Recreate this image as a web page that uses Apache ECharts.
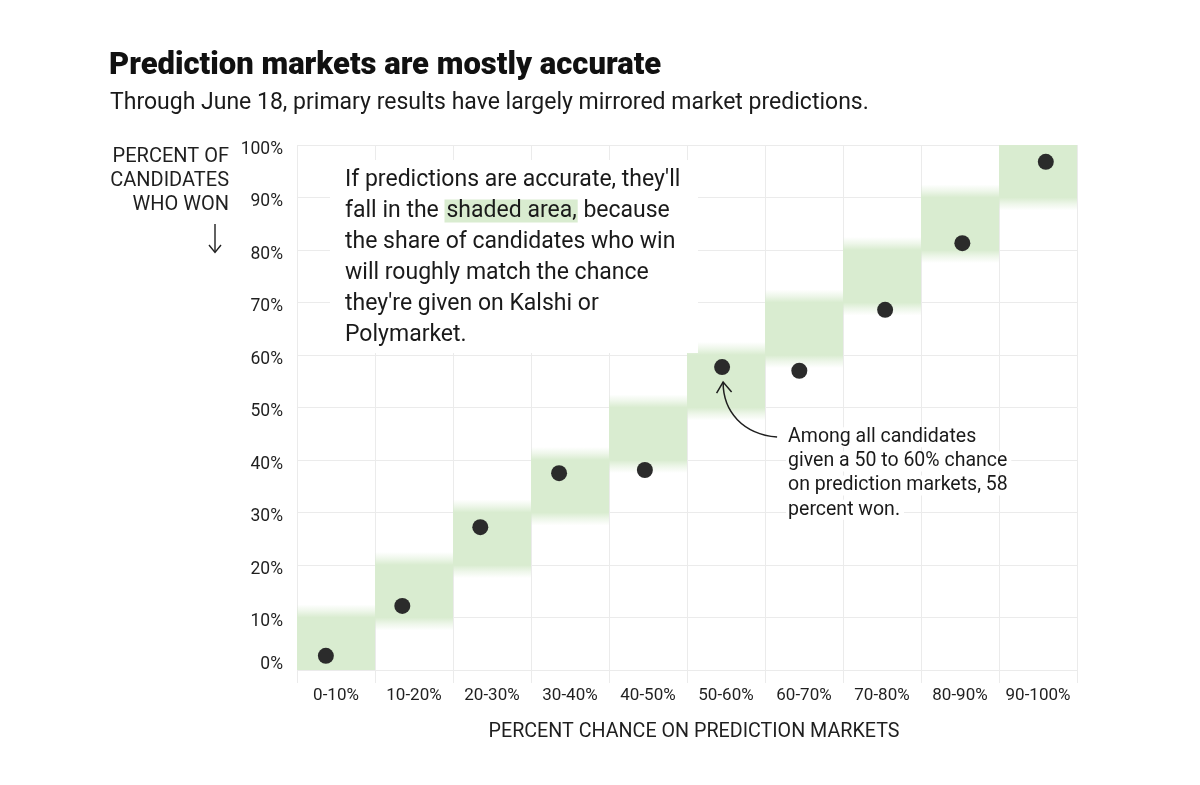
<!DOCTYPE html>
<html>
<head>
<meta charset="utf-8">
<script src="https://cdn.jsdelivr.net/npm/echarts@6/dist/echarts.min.js"></script>
<style>html,body{margin:0;padding:0;background:#fff;}#c{width:1200px;height:785px;}</style>
</head>
<body>
<div id="c"></div>
<script>
// ---- data ----
const categories = ['0-10%','10-20%','20-30%','30-40%','40-50%','50-60%','60-70%','70-80%','80-90%','90-100%'];
const bandLow  = [0, 10, 20, 30, 40, 50, 60, 70, 80, 90];
const bandHigh = [10, 20, 30, 40, 50, 60, 70, 80, 90, 100];
const meanChance = [3.7, 13.5, 23.5, 33.6, 44.6, 54.5, 64.4, 75.4, 85.3, 96.0];
const winShare   = [2.7, 12.2, 27.2, 37.5, 38.1, 57.7, 57.0, 68.6, 81.3, 96.8];
const yTicks = [0, 10, 20, 30, 40, 50, 60, 70, 80, 90, 100];

const FONT = 'Roboto';
const GREEN = '#d9ecd0';
const GREEN0 = 'rgba(217,236,208,0)';
const GRID = '#ebebeb';
const INK = '#1f1f1f';

const chart = echarts.init(document.getElementById('c'), null, {renderer: 'canvas'});

const option = {
  backgroundColor: '#fff',
  animation: false,
  textStyle: {fontFamily: FONT},
  grid: {left: 297, right: 123, top: 145, bottom: 115, containLabel: false},
  xAxis: [
    {
      type: 'value', min: 0, max: 100, interval: 10,
      axisLine: {show: false},
      axisTick: {show: true, length: 13, lineStyle: {color: GRID, width: 1}},
      axisLabel: {show: false},
      splitLine: {show: true, lineStyle: {color: GRID, width: 1}}
    },
    {
      type: 'category', data: categories, position: 'bottom',
      axisLine: {show: false}, axisTick: {show: false}, splitLine: {show: false},
      axisLabel: {interval: 0, margin: 17, fontSize: 17, color: INK, fontFamily: FONT}
    }
  ],
  yAxis: {
    type: 'value', min: 0, max: 100, interval: 10,
    axisLine: {show: false}, axisTick: {show: false},
    splitLine: {show: true, lineStyle: {color: GRID, width: 1}},
    axisLabel: {
      margin: 14, fontSize: 17.5, color: INK, fontFamily: FONT,
      formatter: v => v === 0 ? '{z|0%}' : '{n|' + v + '%}',
      rich: {
        z: {fontSize: 17.5, color: INK, fontFamily: FONT, padding: [0, 0, 10, 0]},
        n: {fontSize: 17.5, color: INK, fontFamily: FONT, padding: [9, 0, 0, 0]}
      }
    }
  },
  series: [
    {
      type: 'custom',
      xAxisIndex: 0, yAxisIndex: 0,
      z: 1,
      silent: true,
      data: bandLow.map((l, i) => [l, bandHigh[i]]),
      encode: {x: [0, 1], y: [0, 1]},
      renderItem: function (params, api) {
        const lo = api.value(0), hi = api.value(1);
        const x0 = api.coord([lo, 0])[0];
        const x1 = api.coord([hi, 0])[0];
        const yLo = api.coord([0, lo])[1];
        const yHi = api.coord([0, hi])[1];
        const yTop = api.coord([0, 100])[1];
        const yBot = api.coord([0, 0])[1];
        const fade = 13;
        const top = Math.max(yTop, yHi - fade);
        const bot = Math.min(yBot, yLo + fade);
        const h = bot - top;
        const tf = (yHi - top) / h;
        const bf = (bot - yLo) / h;
        const stops = [];
        if (tf > 0) {
          stops.push({offset: 0, color: GREEN0});
          stops.push({offset: tf * 0.5, color: 'rgba(217,236,208,0.45)'});
        } else {
          stops.push({offset: 0, color: GREEN});
        }
        stops.push({offset: tf, color: GREEN});
        stops.push({offset: 1 - bf, color: GREEN});
        if (bf > 0) {
          stops.push({offset: 1 - bf * 0.5, color: 'rgba(217,236,208,0.45)'});
          stops.push({offset: 1, color: GREEN0});
        } else {
          stops.push({offset: 1, color: GREEN});
        }
        return {
          type: 'rect',
          shape: {x: x0, y: top, width: x1 - x0, height: h},
          style: {fill: new echarts.graphic.LinearGradient(0, 0, 0, 1, stops)}
        };
      }
    },
    {
      type: 'scatter',
      xAxisIndex: 0, yAxisIndex: 0,
      z: 5,
      symbol: 'circle', symbolSize: 16,
      itemStyle: {color: '#2b2b2b', opacity: 1},
      data: meanChance.map((x, i) => [x, winShare[i]])
    }
  ]
};
chart.setOption(option);

// ---- annotations (text / arrows), positioned from the axes ----
const pt = chart.convertToPixel({xAxisIndex: 0, yAxisIndex: 0}, [meanChance[5], winShare[5]]);
const tipX = pt[0] + 1, tipY = pt[1] + 15;
const a2x = tipX + 65, a2y = tipY + 55;

const note1Lines = [
  '{t|If predictions are accurate, they\'ll}',
  '{t|fall in the }{hl|shaded area,}{t| because}',
  '{t|the share of candidates who win}',
  '{t|will roughly match the chance}',
  '{t|they\'re given on Kalshi or}',
  '{t|Polymarket.}'
];
const note2Lines = [
  '{b|Among all candidates}',
  '{b|given a 50 to 60% chance}',
  '{b|on prediction markets, 58}',
  '{b|percent won.}'
];

chart.setOption({
  title: [
    {text: 'Prediction markets are mostly accurate', left: 109, top: 51, padding: 0,
     textStyle: {fontFamily: FONT, fontSize: 31, fontWeight: 900, color: '#111'}},
    {text: 'Through June 18, primary results have largely mirrored market predictions.', left: 110, top: 92, padding: 0,
     textStyle: {fontFamily: FONT, fontSize: 23, fontWeight: 'normal', color: '#1a1a1a'}}
  ],
  graphic: [
    // y-axis title
    {type: 'text', z: 10, x: 229, y: 145, style: {
      text: 'PERCENT OF\nCANDIDATES\nWHO WON', align: 'right', verticalAlign: 'top',
      font: '20px ' + FONT, fill: INK, lineHeight: 24}},
    {type: 'line', z: 10, shape: {x1: 215, y1: 224, x2: 215, y2: 252}, style: {stroke: INK, lineWidth: 1.4}},
    {type: 'polyline', z: 10, shape: {points: [[209, 245], [215, 252.5], [221, 245]]}, style: {stroke: INK, lineWidth: 1.4, fill: null}},
    // x-axis title
    {type: 'text', z: 10, x: 694, y: 732, style: {
      text: 'PERCENT CHANCE ON PREDICTION MARKETS', align: 'center', verticalAlign: 'middle',
      font: '19.7px ' + FONT, fill: INK}},
    // note 1 box
    {type: 'rect', z: 8, shape: {x: 330, y: 160, width: 368, height: 193}, style: {fill: '#fff'}},
    {type: 'text', z: 9, x: 345, y: 164.5, style: {
      text: note1Lines.join('\n'), align: 'left', verticalAlign: 'top',
      rich: {
        t: {fontFamily: FONT, fontSize: 23, lineHeight: 31, fill: '#1a1a1a'},
        hl: {fontFamily: FONT, fontSize: 23, lineHeight: 31, fill: '#1a1a1a', backgroundColor: GREEN, padding: [0, 1, 0, 2]}
      }}},
    // note 2
    {type: 'text', z: 9, x: a2x - 2, y: a2y - 12, style: {
      text: note2Lines.join('\n'), align: 'left', verticalAlign: 'top',
      rich: {
        b: {fontFamily: FONT, fontSize: 19.5, lineHeight: 24.2, fill: '#1a1a1a', backgroundColor: '#fff', padding: [0, 4, 0, 2]}
      }}},
    {type: 'bezierCurve', z: 10, shape: {
      x1: a2x - 11, y1: a2y, cpx1: a2x - 45, cpy1: a2y - 3, cpx2: tipX, cpy2: tipY + 30, x2: tipX, y2: tipY},
      style: {stroke: INK, lineWidth: 1.5, fill: null}},
    {type: 'polyline', z: 10, shape: {points: [[tipX - 6.5, tipY + 11], [tipX, tipY], [tipX + 8.5, tipY + 10]]},
      style: {stroke: INK, lineWidth: 1.5, fill: null}}
  ]
});
</script>
</body>
</html>
